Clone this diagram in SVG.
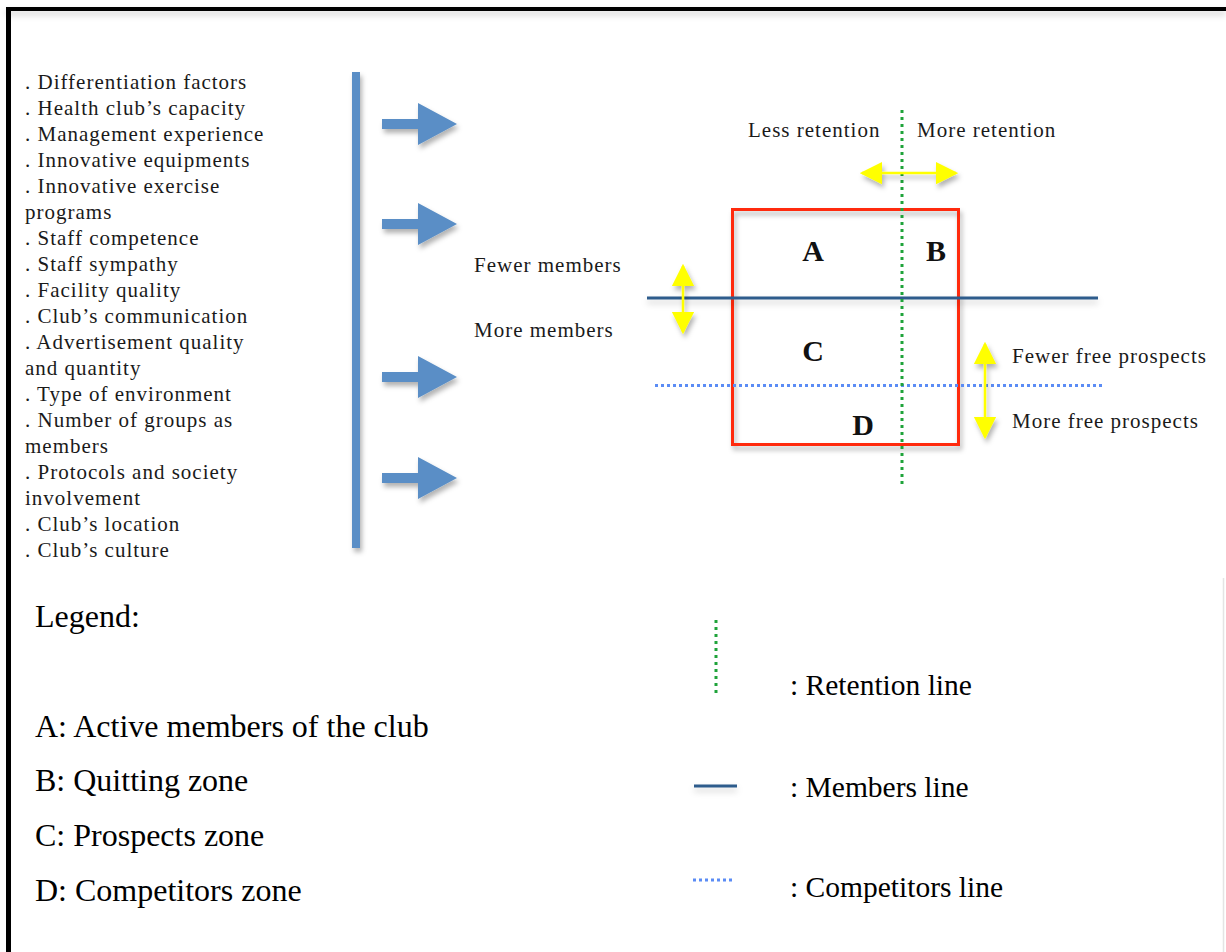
<svg xmlns="http://www.w3.org/2000/svg" width="1226" height="952" viewBox="0 0 1226 952">
<defs>
<filter id="sh" filterUnits="userSpaceOnUse" x="0" y="0" width="1226" height="952">
<feDropShadow dx="2" dy="4" stdDeviation="2.5" flood-color="#000" flood-opacity="0.3"/>
</filter>
<filter id="shl" filterUnits="userSpaceOnUse" x="0" y="0" width="1226" height="952">
<feDropShadow dx="0" dy="4" stdDeviation="3" flood-color="#000" flood-opacity="0.18"/>
</filter>
<marker id="ya" viewBox="0 0 10 10" refX="9" refY="5" markerWidth="9" markerHeight="10" markerUnits="strokeWidth" orient="auto-start-reverse">
<path d="M0,0 L10,5 L0,10 Z" fill="#ffff00"/>
</marker>
<path id="barrow" d="M0,-5 L36,-5 L36,-21 L75,0 L36,21 L36,5 L0,5 Z"/>
</defs>
<style>
.list{font-family:"Liberation Serif","Times New Roman",serif;font-size:21px;letter-spacing:1px;fill:#1a1a1a}
.lbl{font-family:"Liberation Serif","Times New Roman",serif;font-size:21px;letter-spacing:1px;fill:#1a1a1a}
.big{font-family:"Liberation Serif","Times New Roman",serif;font-size:32px;fill:#000}
.big2{font-family:"Liberation Serif","Times New Roman",serif;font-size:29.5px;fill:#000}
.zone{font-family:"Liberation Serif","Times New Roman",serif;font-size:30px;font-weight:bold;fill:#111}
.ya{stroke:#ffff00;stroke-width:2.5;fill:none;marker-start:url(#ya);marker-end:url(#ya)}
.ret{stroke:#1fa33a;stroke-width:3;stroke-dasharray:3 4;fill:none}
.comp{stroke:#5b8cf5;stroke-width:3;stroke-dasharray:3 3;fill:none}
.mem{stroke:#2f5b8c;stroke-width:3;fill:none}
.blue{fill:#5a8ec6}
</style>
<rect width="1226" height="952" fill="#fff"/>
<g id="frame">
<line x1="6" y1="9" x2="1226" y2="9" stroke="#000" stroke-width="4" filter="url(#shl)"/>
<line x1="8.5" y1="7" x2="8.5" y2="952" stroke="#000" stroke-width="5"/>
<line x1="1223.5" y1="578" x2="1223.5" y2="952" stroke="#e4e4e4" stroke-width="1.5"/>
</g>
<g id="factors">
<text class="list" x="25" y="89">. Differentiation factors</text>
<text class="list" x="25" y="115">. Health club’s capacity</text>
<text class="list" x="25" y="141">. Management experience</text>
<text class="list" x="25" y="167">. Innovative equipments</text>
<text class="list" x="25" y="193">. Innovative exercise</text>
<text class="list" x="25" y="219">programs</text>
<text class="list" x="25" y="245">. Staff competence</text>
<text class="list" x="25" y="271">. Staff sympathy</text>
<text class="list" x="25" y="297">. Facility quality</text>
<text class="list" x="25" y="323">. Club’s communication</text>
<text class="list" x="25" y="349">. Advertisement quality</text>
<text class="list" x="25" y="375">and quantity</text>
<text class="list" x="25" y="401">. Type of environment</text>
<text class="list" x="25" y="427">. Number of groups as</text>
<text class="list" x="25" y="453">members</text>
<text class="list" x="25" y="479">. Protocols and society</text>
<text class="list" x="25" y="505">involvement</text>
<text class="list" x="25" y="531">. Club’s location</text>
<text class="list" x="25" y="557">. Club’s culture</text>
</g>
<g id="bar">
<rect class="blue" x="352" y="72" width="8" height="476" filter="url(#sh)"/>
</g>
<g id="arrows" filter="url(#sh)">
<use href="#barrow" class="blue" x="382" y="124"/>
<use href="#barrow" class="blue" x="382" y="224"/>
<use href="#barrow" class="blue" x="382" y="377"/>
<use href="#barrow" class="blue" x="382" y="478"/>
</g>
<g id="matrix">
<rect x="732.5" y="209.5" width="226" height="235" fill="none" stroke="#ff2a0a" stroke-width="3" filter="url(#sh)"/>
<text class="zone" x="813" y="261" text-anchor="middle">A</text>
<text class="zone" x="936" y="261" text-anchor="middle">B</text>
<text class="zone" x="813" y="361" text-anchor="middle">C</text>
<text class="zone" x="863" y="435" text-anchor="middle">D</text>
</g>
<g id="connectors">
<line class="mem" x1="647" y1="298" x2="1098" y2="298" filter="url(#shl)"/>
<line class="comp" x1="655" y1="385.5" x2="1105" y2="385.5"/>
<line class="ret" x1="902" y1="110" x2="902" y2="488"/>
<line class="ya" x1="862" y1="173" x2="956" y2="173" filter="url(#sh)"/>
<line class="ya" x1="683" y1="266" x2="683" y2="332" filter="url(#sh)"/>
<line class="ya" x1="985" y1="344" x2="985" y2="437" filter="url(#sh)"/>
</g>
<g id="labels">
<text class="lbl" x="748" y="137">Less retention</text>
<text class="lbl" x="917" y="137">More retention</text>
<text class="lbl" x="474" y="272">Fewer members</text>
<text class="lbl" x="474" y="337">More members</text>
<text class="lbl" x="1012" y="363">Fewer free prospects</text>
<text class="lbl" x="1012" y="428">More free prospects</text>
</g>
<g id="legend">
<text class="big" x="35" y="627">Legend:</text>
<text class="big" x="35" y="737">A: Active members of the club</text>
<text class="big" x="35" y="791">B: Quitting zone</text>
<text class="big" x="35" y="846">C: Prospects zone</text>
<text class="big" x="35" y="901">D: Competitors zone</text>
<line class="ret" x1="716" y1="620" x2="716" y2="694"/>
<line class="mem" x1="694" y1="786" x2="737" y2="786" filter="url(#shl)"/>
<line class="comp" x1="693" y1="880" x2="734" y2="880"/>
<text class="big2" x="790" y="695">: Retention line</text>
<text class="big2" x="790" y="797">: Members line</text>
<text class="big2" x="790" y="897">: Competitors line</text>
</g>
</svg>
